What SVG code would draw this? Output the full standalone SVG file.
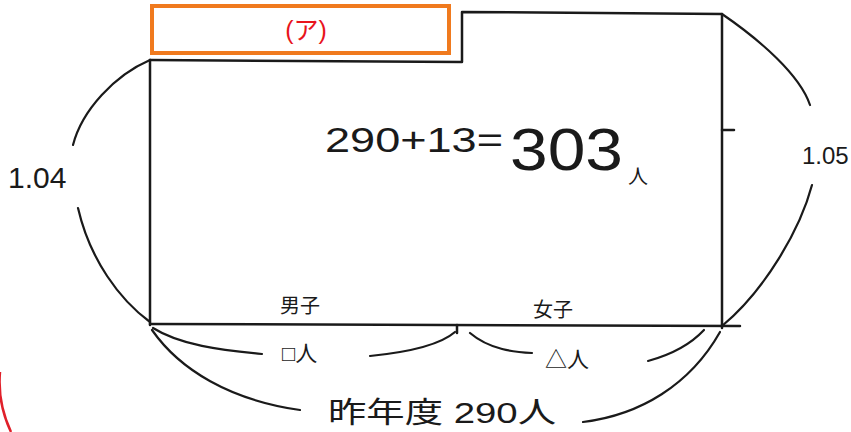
<svg xmlns="http://www.w3.org/2000/svg" width="851" height="432" viewBox="0 0 851 432">
<style>
.ln{fill:none;stroke:#1a1a1a;stroke-width:2.5;stroke-linecap:round;stroke-linejoin:round}
.br{fill:none;stroke:#1a1a1a;stroke-width:2.2;stroke-linecap:round}
.t{font-family:"Liberation Sans","Noto Sans CJK JP",sans-serif;fill:#1a1a1a}
</style>
<rect width="851" height="432" fill="#ffffff"/>
<g id="shape">
<path class="ln" d="M150,60 L462,62 L462,12 L722,14 L722,328"/>
<path class="ln" d="M150,60 L150,325"/>
<path class="ln" d="M150,324 L740,326"/>
<path class="ln" d="M722,130 L734,130"/>
<path class="ln" d="M457,325 L457,333"/>
</g>
<g id="box-a">
<rect x="152" y="6" width="297" height="47" fill="none" stroke="#f07a1e" stroke-width="4"/>
<text x="306" y="39" class="t" font-size="25" style="fill:#e8141c" text-anchor="middle">(ア)</text>
</g>
<g id="connectors">
<path class="br" d="M150,60 C115,75 82,110 73,145"/>
<path class="br" d="M78,208 C90,260 120,300 150,322"/>
<path class="br" d="M722,14 C760,40 800,75 810,105"/>
<path class="br" d="M812,185 C800,230 765,290 722,326"/>
<path class="br" d="M153,328 C180,345 220,350 262,354"/>
<path class="br" d="M370,356 C410,352 440,345 455,332"/>
<path class="br" d="M470,333 C490,350 515,352 532,353"/>
<path class="br" d="M648,361 C670,355 690,345 704,330"/>
<path class="br" d="M152,330 C180,370 230,400 300,410"/>
<path class="br" d="M583,422 C640,415 690,385 720,332"/>
<path fill="none" stroke="#e0202a" stroke-width="2.5" d="M0,372 C-2,395 3,415 11,432"/>
</g>
<g id="label-104"><text x="8" y="188" class="t" font-size="30">1.04</text></g>
<g id="label-105"><text x="802" y="164" class="t" font-size="24">1.05</text></g>
<g id="equation">
<text x="325" y="152" class="t" font-size="35" textLength="178" lengthAdjust="spacingAndGlyphs">290+13=</text>
<text x="510" y="170" class="t" font-size="60" textLength="113" lengthAdjust="spacingAndGlyphs">303</text>
<text x="628" y="184" class="t" font-size="20">人</text>
</g>
<g id="label-boys"><text x="280" y="313" class="t" font-size="20">男子</text></g>
<g id="label-girls"><text x="533" y="317" class="t" font-size="20">女子</text></g>
<g id="label-boxppl"><text x="282" y="361" class="t" font-size="22">□人</text></g>
<g id="label-trippl"><text x="545" y="367" class="t" font-size="22">△人</text></g>
<g id="label-total"><text x="328" y="423" class="t" font-size="29" textLength="228" lengthAdjust="spacingAndGlyphs">昨年度 290人</text></g>
</svg>
